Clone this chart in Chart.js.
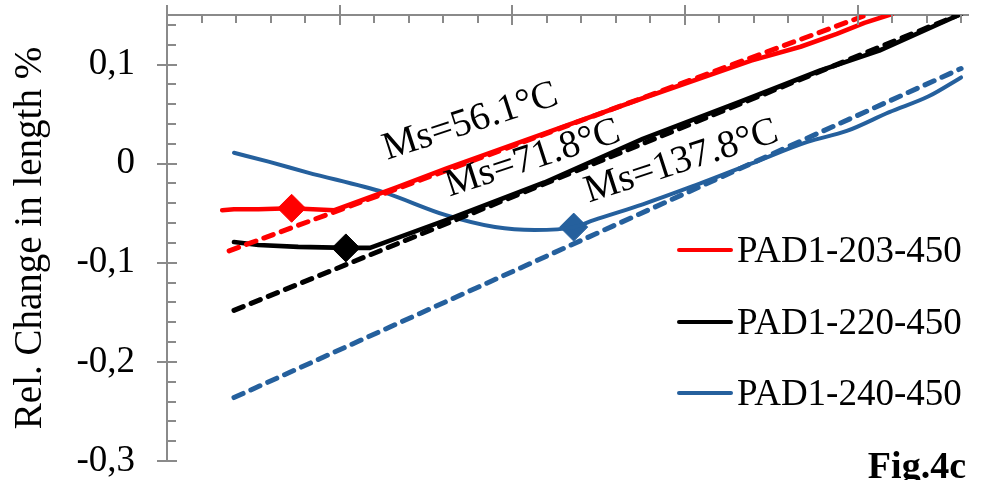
<!DOCTYPE html>
<html><head><meta charset="utf-8">
<script src="https://cdn.jsdelivr.net/npm/chart.js@4.4.1/dist/chart.umd.min.js"></script>
<style>html,body{margin:0;padding:0;background:#fff}#wrap{width:983px;height:480px;position:relative}</style>
</head><body><div id="wrap"><canvas id="c" width="983" height="480"></canvas></div>
<script>
// ---- data ----
const seriesLabels = ['PAD1-203-450', 'PAD1-220-450', 'PAD1-240-450'];
const redTemp = [36.0, 39.4, 46.5, 56.0, 68.5, 86.5, 100.8, 126.5, 157.8, 189.2, 203.5, 214.0, 222.0, 230.0];
const redVal  = [-0.047, -0.046, -0.046, -0.045, -0.047, -0.024, -0.005, 0.027, 0.066, 0.104, 0.118, 0.131, 0.142, 0.151];
const redFitTemp = [38.0, 222.6];
const redFitVal  = [-0.088, 0.150];
const blackTemp = [39.4, 46.5, 58.0, 72.2, 78.8, 100.8, 129.3, 157.8, 186.4, 209.2, 226.3, 250.0];
const blackVal  = [-0.079, -0.082, -0.084, -0.085, -0.085, -0.057, -0.019, 0.025, 0.063, 0.094, 0.114, 0.151];
const blackFitTemp = [39.4, 249.2];
const blackFitVal  = [-0.148, 0.150];
const blueTemp = [39.4, 49.4, 60.8, 82.8, 100.8, 115.0, 126.5, 137.9, 143.6, 157.8, 172.1, 189.2, 205.5, 216.9, 229.2, 240.6, 250.0];
const blueVal  = [0.011, 0.002, -0.009, -0.029, -0.052, -0.064, -0.067, -0.064, -0.057, -0.041, -0.023, 0.000, 0.022, 0.033, 0.052, 0.068, 0.087];
const blueFitTemp = [39.4, 250.0];
const blueFitVal  = [-0.236, 0.096];
const msTemp = [56.1, 71.8, 137.8];
const msVal  = [-0.045, -0.085, -0.064];
const msLabels = ['Ms=56.1°C', 'Ms=71.8°C', 'Ms=137.8°C'];
const msLabelTemp = [107.9, 125.9, 169.0];
const msLabelVal  = [0.042, 0.005, 0.002];
const yTickValues = [-0.3, -0.2, -0.1, 0, 0.1];

const colors = ['#ff0000', '#000000', '#25609d'];
const pts = (t, v) => t.map((x, i) => ({x, y: v[i]}));
const FONT = "'Liberation Serif', 'Times New Roman', serif";
const AXIS = '#8a8a8a';

const solid = [pts(redTemp, redVal), pts(blackTemp, blackVal), pts(blueTemp, blueVal)];
const fits = [pts(redFitTemp, redFitVal), pts(blackFitTemp, blackFitVal), pts(blueFitTemp, blueFitVal)];

const datasets = [];
for (let i = 0; i < 3; i++) {
  datasets.push({label: seriesLabels[i], data: solid[i], borderColor: colors[i], borderWidth: i === 2 ? 4 : 4.6,
    pointRadius: 0, cubicInterpolationMode: i === 2 ? 'monotone' : 'default', tension: 0,
    borderCapStyle: 'round', borderJoinStyle: 'round', fill: false});
  datasets.push({label: seriesLabels[i] + ' fit', data: fits[i], borderColor: colors[i], borderWidth: 5,
    borderDash: [10, 8.5], borderCapStyle: 'round', pointRadius: 0, fill: false});
  datasets.push({label: seriesLabels[i] + ' Ms', data: [{x: msTemp[i], y: msVal[i]}], showLine: false,
    pointStyle: 'rectRot', pointRadius: 14, pointBackgroundColor: colors[i], pointBorderColor: colors[i], pointBorderWidth: 1});
}

const fmt = v => { const r = Math.round(v * 10) / 10; return r === 0 ? '0' : String(r).replace('.', ','); };
const noPad = s => { s.paddingTop = 0; s.paddingBottom = 0; s.paddingLeft = 0; s.paddingRight = 0; };

const decor = {
  id: 'decor',
  afterDraw(chart) {
    const {ctx, chartArea: ca, scales: {x, y}} = chart;
    ctx.save();
    ctx.strokeStyle = AXIS; ctx.lineWidth = 2;
    ctx.beginPath();
    for (let t = 20; t <= 252 + 1e-9; t += 10) {
      const px = Math.round(x.getPixelForValue(t));
      const major = Math.round(t - 20) % 50 === 0;
      ctx.moveTo(px, major ? ca.top - 10 : ca.top);
      ctx.lineTo(px, ca.top + (major ? 10 : 8));
    }
    for (let k = -15; k <= 7; k++) {
      const v = k * 0.02;
      const py = Math.round(y.getPixelForValue(v));
      const major = k % 5 === 0;
      ctx.moveTo(major ? ca.left - 10 : ca.left, py);
      ctx.lineTo(ca.left + (major ? 10 : 9), py);
    }
    ctx.stroke();
    ctx.fillStyle = '#000';
    ctx.font = '39px ' + FONT;
    ctx.textAlign = 'center'; ctx.textBaseline = 'middle';
    for (let i = 0; i < msLabels.length; i++) {
      ctx.save();
      ctx.translate(x.getPixelForValue(msLabelTemp[i]), y.getPixelForValue(msLabelVal[i]));
      ctx.rotate(-18 * Math.PI / 180);
      ctx.fillText(msLabels[i], 0, 0);
      ctx.restore();
    }
    const ly = [250, 322, 393];
    ctx.font = '37px ' + FONT;
    ctx.textAlign = 'left';
    ctx.lineCap = 'round';
    for (let i = 0; i < 3; i++) {
      ctx.strokeStyle = colors[i]; ctx.lineWidth = 4;
      ctx.beginPath(); ctx.moveTo(679, ly[i]); ctx.lineTo(731, ly[i]); ctx.stroke();
      ctx.fillStyle = '#000';
      ctx.fillText(seriesLabels[i], 737, ly[i] + 2);
    }
    ctx.font = 'bold 38px ' + FONT;
    ctx.textAlign = 'right'; ctx.textBaseline = 'alphabetic';
    ctx.fillText('Fig.4c', 966, 478);
    ctx.restore();
  }
};

new Chart(document.getElementById('c'), {
  type: 'line',
  data: {datasets},
  options: {
    responsive: false, animation: false, devicePixelRatio: 1,
    layout: {padding: {left: 0, top: 0, right: 3, bottom: 19}},
    plugins: {legend: {display: false}, tooltip: {enabled: false}},
    scales: {
      x: {type: 'linear', position: 'top', min: 20, max: 252,
        grid: {display: false, drawTicks: false},
        border: {display: true, color: AXIS, width: 2},
        ticks: {display: false},
        afterFit(s) { s.height = 14; noPad(s); }},
      y: {type: 'linear', min: -0.3, max: 0.15,
        grid: {display: false, drawTicks: false},
        border: {display: true, color: AXIS, width: 2},
        afterBuildTicks(s) { s.ticks = yTickValues.map(v => ({value: v})); },
        ticks: {padding: 32, color: '#000', font: {family: FONT, size: 37}, callback: v => fmt(v)},
        title: {display: true, text: 'Rel. Change in length %', color: '#000', font: {family: FONT, size: 39}, padding: {top: 7, bottom: 0}},
        afterFit(s) { s.width = 167; noPad(s); }}
    }
  },
  plugins: [decor]
});
</script></body></html>
